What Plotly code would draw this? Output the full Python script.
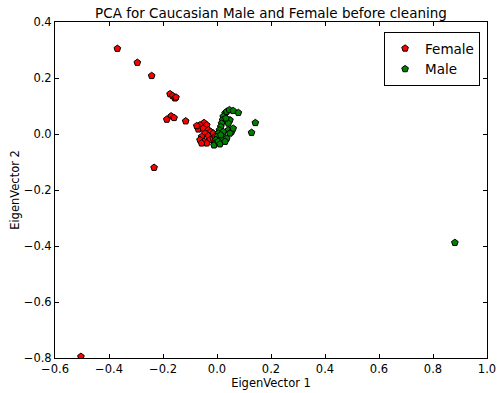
import plotly.graph_objects as go

female_x = [-0.369, -0.295, -0.242, -0.174, -0.164, -0.156, -0.152, -0.170, -0.186, -0.159,
            -0.116, -0.233, -0.504,
            -0.048, -0.063, -0.038, -0.069, -0.051, -0.032, -0.023, -0.044, -0.057, -0.032,
            -0.014, -0.063, -0.048, -0.026, -0.038, -0.057, -0.014, -0.007, -0.075]
female_y = [0.305, 0.255, 0.208, 0.143, 0.136, 0.128, 0.131, 0.064, 0.052, 0.058,
            0.046, -0.120, -0.795,
            0.040, 0.032, 0.032, 0.017, 0.020, 0.014, 0.008, 0.0025, -0.0095, -0.007,
            0.0025, -0.021, -0.027, -0.021, -0.033, -0.033, -0.016, -0.0095, 0.029]

male_x = [0.030, 0.036, 0.046, 0.060, 0.079, 0.023, 0.021, 0.017, 0.014, 0.009, 0.005,
          0.001, -0.004, -0.007, -0.011, 0.042, 0.054, 0.060, 0.048, 0.023, 0.036, 0.017,
          0.005, 0.011, 0.048, 0.042, 0.033, 0.023, 0.014, 0.030, 0.142, 0.128, 0.881]
male_y = [0.074, 0.080, 0.086, 0.083, 0.076, 0.062, 0.050, 0.038, 0.026, 0.014, 0.0025,
          -0.0095, -0.021, -0.033, -0.040, 0.014, 0.008, 0.020, 0.0025, -0.0095, -0.016, -0.021,
          -0.027, -0.036, 0.050, 0.038, 0.056, 0.008, -0.0036, -0.027, 0.040, 0.005, -0.388]

x_ticks = [-0.6, -0.4, -0.2, 0.0, 0.2, 0.4, 0.6, 0.8, 1.0]
y_ticks = [-0.8, -0.6, -0.4, -0.2, 0.0, 0.2, 0.4]

font = "DejaVu Sans"
fig = go.Figure()
fig.add_trace(go.Scatter(x=female_x, y=female_y, mode="markers", name="Female",
                         marker=dict(symbol="pentagon", size=7, color="#ff0000",
                                     line=dict(color="black", width=1))))
fig.add_trace(go.Scatter(x=male_x, y=male_y, mode="markers", name="Male",
                         marker=dict(symbol="pentagon", size=7, color="#008000",
                                     line=dict(color="black", width=1))))

axis_common = dict(showgrid=False, zeroline=False, showline=True, linecolor="black",
                   linewidth=1, mirror="ticks", ticks="inside", ticklen=4,
                   tickcolor="black", automargin=False,
                   tickfont=dict(family=font, size=11.5, color="black"))

fig.update_layout(
    width=499, height=393,
    margin=dict(l=55, r=12, t=22, b=35, autoexpand=False),
    paper_bgcolor="white", plot_bgcolor="white",
    title=dict(text="PCA for Caucasian Male and Female before cleaning",
               xref="paper", x=0.5, xanchor="center",
               yref="container", y=1 - 13 / 393, yanchor="middle", automargin=False,
               font=dict(family=font, size=13.5, color="black")),
    xaxis=dict(range=[-0.6, 1.0], tickvals=x_ticks, tickformat=".1f",
               title=dict(text="EigenVector 1", standoff=2,
                          font=dict(family=font, size=11.5, color="black")),
               **axis_common),
    yaxis=dict(range=[-0.8, 0.4], tickvals=y_ticks, tickformat=".1f",
               title=dict(text="EigenVector 2", standoff=1,
                          font=dict(family=font, size=11.5, color="black")),
               **axis_common),
    legend=dict(x=0.984, y=0.97, xanchor="right", yanchor="top",
                bgcolor="white", bordercolor="black", borderwidth=1,
                font=dict(family=font, size=13.5, color="black"),
                itemwidth=30, tracegroupgap=0),
    showlegend=True,
)

fig.write_html("out.html", config={"displayModeBar": False},
               post_script="document.body.style.margin='0px';document.body.style.overflow='hidden';")
